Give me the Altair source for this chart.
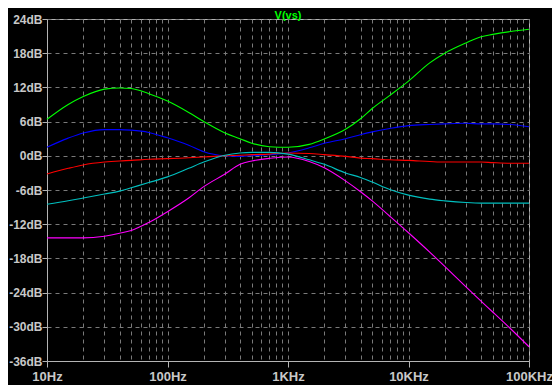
import altair as alt
import pandas as pd

# Frequencies (Hz) at which the curves were read
freqs = [10, 15, 20, 30, 40, 50, 70, 100, 150, 200, 300, 400, 500, 700,
         1000, 1500, 2000, 3000, 4000, 5000, 7000, 10000, 15000, 20000,
         30000, 40000, 50000, 70000, 100000]

# Magnitudes (dB) per trace
green = [6.4, 9.0, 10.4, 11.7, 11.9, 11.8, 10.9, 9.6, 7.6, 6.0, 4.0, 3.0, 2.2, 1.6,
         1.5, 2.0, 2.95, 4.65, 6.5, 8.3, 10.6, 13.1, 16.3, 18.0,
         19.8, 20.9, 21.3, 21.8, 22.2]
blue = [1.5, 3.1, 4.0, 4.6, 4.6, 4.5, 4.1, 3.15, 1.85, 0.7, 0.0, -0.1, 0.0, 0.2,
        0.5, 1.4, 2.2, 3.0, 3.7, 4.2, 4.8, 5.3, 5.5, 5.6,
        5.7, 5.6, 5.6, 5.5, 5.1]
red = [-3.2, -2.2, -1.6, -1.1, -0.9, -0.8, -0.6, -0.5, -0.35, -0.2, 0.0, 0.1, 0.2, 0.3,
       0.5, 0.4, 0.2, -0.1, -0.4, -0.5, -0.7, -0.8, -1.0, -1.1,
       -1.1, -1.1, -1.2, -1.3, -1.3]
cyan = [-8.5, -7.9, -7.4, -6.7, -6.2, -5.6, -4.7, -3.7, -2.2, -1.1, 0.1, 0.5, 0.6, 0.6,
        0.3, -0.7, -1.5, -3.0, -3.8, -4.6, -5.9, -6.9, -7.6, -7.9,
        -8.2, -8.3, -8.3, -8.3, -8.3]
magenta = [-14.4, -14.4, -14.4, -14.1, -13.6, -13.1, -11.7, -9.8, -7.4, -5.4, -3.2, -1.5, -0.9, -0.45,
           -0.2, -1.0, -2.1, -4.4, -6.3, -7.9, -10.6, -13.5, -16.9, -19.4,
           -23.0, -25.5, -27.4, -30.3, -33.5]

series_names = ["trace1", "trace2", "trace3", "trace4", "trace5"]
series_colors = ["#00ff00", "#0000ff", "#ff0000", "#00c0c0", "#ff00ff"]
series_values = [green, blue, red, cyan, magenta]

# Axis ticks
x_grid_values = [10, 20, 30, 40, 50, 60, 70, 80, 90,
                 100, 200, 300, 400, 500, 600, 700, 800, 900,
                 1000, 2000, 3000, 4000, 5000, 6000, 7000, 8000, 9000,
                 10000, 20000, 30000, 40000, 50000, 60000, 70000, 80000, 90000,
                 100000]
x_major_values = [10, 100, 1000, 10000, 100000]
x_major_labels = ["10Hz", "100Hz", "1KHz", "10KHz", "100KHz"]
y_values = [-36, -30, -24, -18, -12, -6, 0, 6, 12, 18, 24]

rows = []
for i, (name, vals) in enumerate(zip(series_names, series_values)):
    for f, v in zip(freqs, vals):
        rows.append({"f": f, "db": v, "trace": name, "ord": i})
df = pd.DataFrame(rows)

label_expr = " : ".join(
    f"datum.value == {v} ? '{l}'" for v, l in zip(x_major_values, x_major_labels)
) + " : ''"
major_test = "indexof([" + ",".join(str(v) for v in x_major_values) + "], datum.value) >= 0"

grid_color = "#7a7a7a"
axis_color = "#b4b4b4"
label_color = "#c8c8c8"

chart = alt.Chart(df).mark_line(strokeWidth=1.1, interpolate="monotone").encode(
    x=alt.X("f:Q",
            scale=alt.Scale(type="log", domain=[10, 100000], nice=False),
            axis=alt.Axis(values=x_grid_values, labelExpr=label_expr, title=None,
                          grid=True, gridColor=grid_color, gridDash=[4, 4], gridWidth=1,
                          tickColor=axis_color, tickSize=6,
                          tickOpacity={"condition": {"test": major_test, "value": 1}, "value": 0},
                          domainColor=axis_color, labelColor=label_color,
                          labelFont="Liberation Sans", labelFontSize=13, labelFontWeight="bold",
                          labelPadding=3, labelFlush=False, labelOverlap=False)),
    y=alt.Y("db:Q",
            scale=alt.Scale(domain=[-36, 24], nice=False, zero=False),
            axis=alt.Axis(values=y_values, labelExpr="datum.value + 'dB'", title=None,
                          grid=True, gridColor=grid_color, gridDash=[4, 4], gridWidth=1,
                          tickColor=axis_color, tickSize=5,
                          domainColor=axis_color, labelColor=label_color,
                          labelFont="Liberation Sans", labelFontSize=12, labelFontWeight="bold",
                          labelPadding=0, labelFlush=False, labelOverlap=False)),
    color=alt.Color("trace:N", scale=alt.Scale(domain=series_names, range=series_colors), legend=None),
    order=alt.Order("ord:Q"),
).properties(
    width=482,
    height=342,
    title=alt.TitleParams("V(vs)", color="#00ff00", font="Liberation Sans", fontSize=11,
                          fontWeight="bold", anchor="middle", offset=-8),
    background="black",
    padding={"left": 39, "top": 11, "right": 23, "bottom": 24},
    autosize=alt.AutoSizeParams(type="none"),
).configure_view(
    stroke=axis_color, strokeWidth=1, fill="black"
)

chart.save("out.html", embed_options={"renderer": "svg", "actions": False})
